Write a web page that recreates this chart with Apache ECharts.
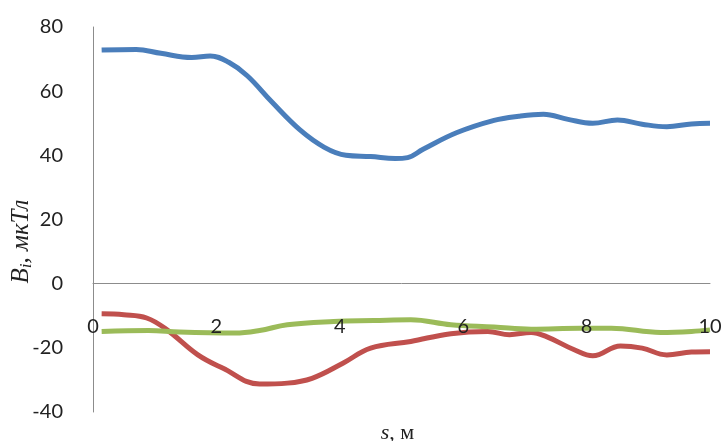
<!DOCTYPE html>
<html><head><meta charset="utf-8">
<script src="https://cdn.jsdelivr.net/npm/echarts@6/dist/echarts.min.js"></script>
<style>html,body{margin:0;padding:0;background:#fff}#c{width:726px;height:441px}</style>
</head><body><div id="c"></div>
<script>
const xTicks = [0, 2, 4, 6, 8, 10];
const yTicks = [-40, -20, 0, 20, 40, 60, 80];

const sBlue = [0.14, 0.7, 1.1, 1.6, 1.9, 2.2, 2.5, 2.9, 3.35, 3.75, 4.1, 4.5, 4.9, 5.1, 5.35, 5.9, 6.5, 6.9, 7.3, 7.7, 8.1, 8.5, 8.9, 9.3, 9.7, 10];
const bBlue = [72.8, 73, 71.8, 70.5, 71, 69, 64.8, 56.6, 48, 42.5, 40, 39.6, 39, 39.3, 41.9, 47.1, 50.9, 52.2, 52.8, 51.2, 50, 51, 49.7, 48.9, 49.8, 50];

const sRed = [0.14, 0.5, 0.87, 1.2, 1.7, 2.1, 2.7, 3.15, 3.55, 4.05, 4.5, 5.15, 5.8, 6.4, 6.75, 7.1, 7.35, 7.8, 8.1, 8.55, 8.9, 9.3, 9.7, 10];
const bRed = [-9.4, -9.7, -10.7, -14.4, -22.2, -26.3, -31.3, -31, -29.5, -24.8, -20.1, -18, -15.6, -14.9, -15.9, -15.2, -16.5, -20.6, -22.5, -19.4, -20.1, -22.2, -21.3, -21.2];

const sGreen = [0.14, 0.9, 1.4, 2.3, 2.7, 3.15, 3.9, 4.55, 5.15, 5.8, 6.5, 7.1, 7.9, 8.4, 9.2, 9.7, 10];
const bGreen = [-14.9, -14.6, -15.1, -15.4, -14.6, -12.8, -11.8, -11.5, -11.25, -12.8, -13.5, -14.2, -13.9, -13.9, -15.2, -14.9, -14.4];

const pairs = (xs, ys) => xs.map((x, i) => [x, ys[i]]);

const chart = echarts.init(document.getElementById('c'), null, {renderer: 'canvas'});
const labelFont = 'Lato, "Liberation Sans", sans-serif';
chart.setOption({
  animation: false,
  backgroundColor: '#ffffff',
  grid: {left: 93, right: 16, top: 27, bottom: 29, containLabel: false, outerBoundsMode: 'none'},
  xAxis: {
    type: 'value', min: xTicks[0], max: xTicks[xTicks.length - 1], interval: 2,
    z: 10,
    axisLine: {show: true, onZero: true, lineStyle: {color: '#8c8c8c', width: 1}},
    axisTick: {show: false},
    splitLine: {show: false},
    axisLabel: {margin: -95, fontSize: 20, color: '#222', fontFamily: labelFont,
      formatter: v => xTicks.includes(v) ? String(v) : ''},
    name: '{i|s}{n|, м}',
    nameLocation: 'middle',
    nameMoveOverlap: false,
    nameGap: 10,
    nameTextStyle: {padding: [0, 8, 0, 0], rich: {
      i: {fontFamily: '"Liberation Serif", serif', fontStyle: 'italic', fontSize: 22, color: '#222'},
      n: {fontFamily: '"Liberation Serif", serif', fontSize: 22, color: '#222'}
    }}
  },
  yAxis: {
    type: 'value', min: yTicks[0], max: yTicks[yTicks.length - 1], interval: 20,
    axisLine: {show: true, lineStyle: {color: '#8c8c8c', width: 1}},
    axisTick: {show: false},
    splitLine: {show: false},
    axisLabel: {margin: 30, fontSize: 20, color: '#222', fontFamily: labelFont},
    name: '{b|B}{sub|i}{b|, мкТл}',
    nameLocation: 'middle',
    nameRotate: 90,
    nameMoveOverlap: false,
    nameGap: 58,
    nameTextStyle: {padding: [0, 44, 0, 0], rich: {
      b: {fontFamily: '"Liberation Serif", serif', fontStyle: 'italic', fontSize: 25, color: '#222'},
      sub: {fontFamily: '"Liberation Serif", serif', fontStyle: 'italic', fontSize: 17, color: '#222', verticalAlign: 'bottom', padding: [10, 0, 0, 0]}
    }}
  },
  series: [
    {type: 'line', name: 'blue', data: pairs(sBlue, bBlue), smooth: 0.4, showSymbol: false,
      lineStyle: {color: '#4a7ebb', width: 5}, itemStyle: {color: '#4a7ebb'}},
    {type: 'line', name: 'red', data: pairs(sRed, bRed), smooth: 0.4, showSymbol: false,
      lineStyle: {color: '#c0504d', width: 5}, itemStyle: {color: '#c0504d'}},
    {type: 'line', name: 'green', data: pairs(sGreen, bGreen), smooth: 0.4, showSymbol: false,
      lineStyle: {color: '#9bbb59', width: 5}, itemStyle: {color: '#9bbb59'}}
  ]
});
</script></body></html>
